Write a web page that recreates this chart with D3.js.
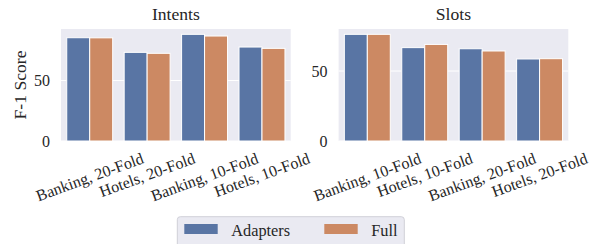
<!DOCTYPE html>
<html>
<head>
<meta charset="utf-8">
<script src="https://cdn.jsdelivr.net/npm/d3@7"></script>
<style>
  body { margin: 0; background: #fff; }
</style>
</head>
<body>
<svg id="chart" width="597" height="244"></svg>
<script>
// categories and values
const intentCats = ["Banking, 20-Fold", "Hotels, 20-Fold", "Banking, 10-Fold", "Hotels, 10-Fold"];
const intentAdapters = [85.4, 73.3, 88.2, 77.7];
const intentFull = [85.3, 72.5, 86.8, 76.6];

const slotCats = ["Banking, 10-Fold", "Hotels, 10-Fold", "Banking, 20-Fold", "Hotels, 20-Fold"];
const slotAdapters = [76.2, 66.7, 65.9, 58.6];
const slotFull = [76.2, 69.0, 64.3, 58.8];

const series = ["Adapters", "Full"];
const yTicks = [0, 50];

const colors = { Adapters: "#5975a4", Full: "#cc8963" };
const serif = "'Liberation Serif', 'Times New Roman', Times, serif";

const svg = d3.select("#chart");

// one panel = one axes in the original figure
function panel(title, cats, adapters, full, left, showYLabel) {
  const top = 29, height = 112, width = 229.7;
  const g = svg.append("g").attr("transform", `translate(${left},${top})`);

  const rows = cats.map((c, i) => ({ cat: c, Adapters: adapters[i], Full: full[i] }));
  // matplotlib-like autoscale: 5% headroom above tallest bar
  const ymax = d3.max(rows, d => Math.max(d.Adapters, d.Full)) * 1.05;

  const x = d3.scaleBand().domain(cats).range([0, width]).paddingInner(0.2).paddingOuter(0.1);
  const x1 = d3.scaleBand().domain(series).range([0, x.bandwidth()]);
  const y = d3.scaleLinear().domain([0, ymax]).range([height, 0]);

  g.append("rect").attr("width", width).attr("height", height).attr("fill", "#eaeaf2");

  // white grid lines
  g.selectAll(".grid").data(yTicks).join("line")
    .attr("x1", 0).attr("x2", width)
    .attr("y1", d => y(d)).attr("y2", d => y(d))
    .attr("stroke", "#fff").attr("stroke-width", 1);

  const grp = g.selectAll(".grp").data(rows).join("g")
    .attr("transform", d => `translate(${x(d.cat)},0)`);
  grp.selectAll("rect").data(d => series.map(s => ({ s, v: d[s] }))).join("rect")
    .attr("x", d => x1(d.s))
    .attr("width", x1.bandwidth())
    .attr("y", d => y(d.v))
    .attr("height", d => y(0) - y(d.v))
    .attr("fill", d => colors[d.s])
    .attr("stroke", "#fff").attr("stroke-width", 1);

  // y tick labels
  g.selectAll(".yt").data(yTicks).join("text")
    .attr("x", -11).attr("y", d => y(d)).attr("dy", "0.35em")
    .attr("text-anchor", "end")
    .style("font-family", serif).style("font-size", "16px").style("fill", "#262626")
    .text(d => d);

  // x tick labels, rotated 20deg, centred under each group
  const lab = g.selectAll(".xt").data(cats).join("text")
    .attr("text-anchor", "middle").attr("dy", "0.35em")
    .style("font-family", serif).style("font-size", "16px").style("fill", "#262626")
    .text(d => d);
  lab.each(function(d) {
    const w = this.getComputedTextLength();
    const h = 16;
    const a = 20 * Math.PI / 180;
    const bh = w * Math.sin(a) + h * Math.cos(a);
    const cx = x(d) + x.bandwidth() / 2;
    const cy = height + 9 + bh / 2;
    d3.select(this).attr("transform", `translate(${cx},${cy}) rotate(-20)`);
  });

  g.append("text").attr("x", width / 2).attr("y", -9)
    .attr("text-anchor", "middle")
    .style("font-family", serif).style("font-size", "17.6px").style("fill", "#262626")
    .text(title);

  if (showYLabel) {
    g.append("text")
      .attr("transform", `translate(${-left + 26},${height / 2}) rotate(-90)`)
      .attr("text-anchor", "middle")
      .style("font-family", serif).style("font-size", "17.6px").style("fill", "#262626")
      .text("F-1 Score");
  }
}

panel("Intents", intentCats, intentAdapters, intentFull, 61, true);
panel("Slots", slotCats, slotAdapters, slotFull, 338.6, false);

// legend
const lg = svg.append("g").attr("transform", "translate(177.3,216.7)");
lg.append("rect").attr("width", 227).attr("height", 40).attr("rx", 3)
  .attr("fill", "#eaeaf2").attr("stroke", "#d0d0d8").attr("stroke-width", 1);
const items = lg.selectAll(".item").data(series).join("g")
  .attr("transform", (d, i) => `translate(${7 + i * 140},0)`);
items.append("rect").attr("y", 7.3).attr("width", 33.4).attr("height", 10)
  .attr("fill", d => colors[d]);
items.append("text").attr("x", 47).attr("y", 19)
  .style("font-family", serif).style("font-size", "16.3px").style("fill", "#262626")
  .text(d => d);
</script>
</body>
</html>
